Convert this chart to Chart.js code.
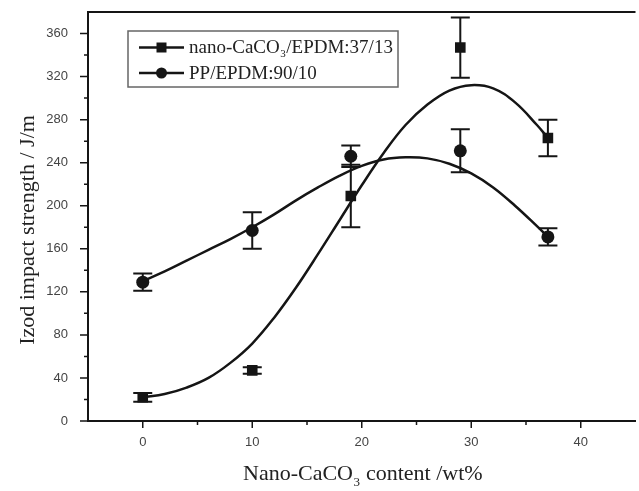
<!DOCTYPE html>
<html>
<head>
<meta charset="utf-8">
<script src="https://cdn.jsdelivr.net/npm/chart.js@4"></script>
<style>
  html, body { margin: 0; padding: 0; background: #fff; overflow: hidden; }
  #wrap { width: 639px; height: 491px; overflow: hidden; }
</style>
</head>
<body>
<div id="wrap"><canvas id="impactChart" width="643" height="491"></canvas></div>
<script>
// measured points (wt% CaCO3 -> Izod impact strength J/m)
const contentWt = [0, 10, 19, 29, 37];
const caco3Impact = [22, 47, 209, 347, 263];
const caco3Err = [4, 3, 29, 28, 17];
const ppImpact = [129, 177, 246, 251, 171];
const ppErr = [8, 17, 10, 20, 8];

// fitted curves
const fitX = [0, 2, 4, 6, 8, 10, 12, 14, 16, 18, 20, 22, 24, 26, 28, 30, 32, 34, 36, 37];
const caco3Fit = [22, 25, 31, 40, 54, 72, 96, 124, 155, 187, 219, 249, 275, 294, 307, 312, 309, 296, 275, 263];
const ppFit = [130, 139, 149, 159, 169, 180, 192, 205, 217, 228, 237, 243, 245, 244, 239, 230, 217, 200, 181, 171];

const xTicks = [0, 10, 20, 30, 40];
const xMinorTicks = [5, 15, 25, 35];
const yTicks = [0, 40, 80, 120, 160, 200, 240, 280, 320, 360];
const yMinorTicks = [20, 60, 100, 140, 180, 220, 260, 300, 340];

const seriesNames = ['nano-CaCO₃/EPDM:37/13', 'PP/EPDM:90/10'];
const xTitle = 'Nano-CaCO₃ content /wt%';
const yTitle = 'Izod impact strength / J/m';

const INK = '#151515';
const serif = '"Liberation Serif", "Times New Roman", serif';

const toXY = (xs, ys) => xs.map((x, i) => ({ x: x, y: ys[i] }));

// draw text where '₃' becomes a small lowered 3
function drawSubText(ctx, text, x, y, size) {
    const parts = text.split('₃');
    let cx = x;
    parts.forEach((p, i) => {
        ctx.font = size + 'px ' + serif;
        ctx.fillText(p, cx, y);
        cx += ctx.measureText(p).width;
        if (i < parts.length - 1) {
            ctx.font = Math.round(size * 0.6) + 'px ' + serif;
            ctx.fillText('3', cx + 0.5, y + size * 0.28);
            cx += ctx.measureText('3').width + 1;
        }
    });
}

const errorBars = {
    id: 'errorBars',
    beforeDatasetsDraw(chart) {
        const ctx = chart.ctx;
        const xs = chart.scales.x, ys = chart.scales.y;
        ctx.save();
        ctx.strokeStyle = INK;
        ctx.lineWidth = 2;
        [[caco3Impact, caco3Err], [ppImpact, ppErr]].forEach(([vals, errs]) => {
            vals.forEach((v, i) => {
                const px = xs.getPixelForValue(contentWt[i]);
                const top = ys.getPixelForValue(v + errs[i]);
                const bot = ys.getPixelForValue(v - errs[i]);
                ctx.beginPath();
                ctx.moveTo(px, top); ctx.lineTo(px, bot);
                ctx.moveTo(px - 9.5, top); ctx.lineTo(px + 9.5, top);
                ctx.moveTo(px - 9.5, bot); ctx.lineTo(px + 9.5, bot);
                ctx.stroke();
            });
        });
        ctx.restore();
    }
};

const frameAndLegend = {
    id: 'frameAndLegend',
    afterDraw(chart) {
        const ctx = chart.ctx;
        const area = chart.chartArea;
        const xs = chart.scales.x, ys = chart.scales.y;
        ctx.save();
        ctx.strokeStyle = INK;
        ctx.lineWidth = 2;
        // top frame line
        ctx.beginPath();
        ctx.moveTo(area.left, area.top);
        ctx.lineTo(area.right, area.top);
        ctx.stroke();

        // tick marks
        ctx.lineWidth = 1.5;
        ctx.beginPath();
        yTicks.forEach(v => { const py = ys.getPixelForValue(v); ctx.moveTo(area.left - 8, py); ctx.lineTo(area.left, py); });
        yMinorTicks.forEach(v => { const py = ys.getPixelForValue(v); ctx.moveTo(area.left - 4, py); ctx.lineTo(area.left, py); });
        xTicks.forEach(v => { const px = xs.getPixelForValue(v); ctx.moveTo(px, area.bottom); ctx.lineTo(px, area.bottom + 7); });
        xMinorTicks.forEach(v => { const px = xs.getPixelForValue(v); ctx.moveTo(px, area.bottom); ctx.lineTo(px, area.bottom + 4); });
        ctx.stroke();

        // legend box
        ctx.strokeStyle = '#666';
        ctx.lineWidth = 1.5;
        ctx.strokeRect(128, 31, 270, 56);
        const rows = [47.5, 73];
        rows.forEach((ry, i) => {
            ctx.strokeStyle = INK;
            ctx.fillStyle = INK;
            ctx.lineWidth = 2.5;
            ctx.beginPath();
            ctx.moveTo(139, ry); ctx.lineTo(184, ry);
            ctx.stroke();
            ctx.beginPath();
            if (i === 0) {
                ctx.rect(161.5 - 5, ry - 5, 10, 10);
            } else {
                ctx.arc(161.5, ry, 5.5, 0, Math.PI * 2);
            }
            ctx.fill();
            ctx.fillStyle = '#222';
            ctx.textBaseline = 'middle';
            ctx.textAlign = 'left';
            drawSubText(ctx, seriesNames[i], 189, ry + 1, 19);
        });

        // axis titles
        ctx.fillStyle = '#222';
        ctx.textBaseline = 'alphabetic';
        ctx.textAlign = 'left';
        drawSubText(ctx, xTitle, 243, 480, 22);

        ctx.save();
        ctx.translate(34, 230);
        ctx.rotate(-Math.PI / 2);
        ctx.textAlign = 'center';
        ctx.font = '22px ' + serif;
        ctx.fillText(yTitle, 0, 0);
        ctx.restore();

        ctx.restore();
    }
};

const ctx = document.getElementById('impactChart').getContext('2d');
const impactChart = new Chart(ctx, {
    type: 'scatter',
    data: {
        datasets: [{
            label: seriesNames[0] + ' fit',
            data: toXY(fitX, caco3Fit),
            showLine: true,
            pointRadius: 0,
            borderColor: INK,
            borderWidth: 2.5,
            tension: 0.4
        }, {
            label: seriesNames[1] + ' fit',
            data: toXY(fitX, ppFit),
            showLine: true,
            pointRadius: 0,
            borderColor: INK,
            borderWidth: 2.5,
            tension: 0.4
        }, {
            label: seriesNames[0],
            data: toXY(contentWt, caco3Impact),
            pointStyle: 'rect',
            pointRadius: 7.5,
            backgroundColor: INK,
            borderColor: INK,
            borderWidth: 0
        }, {
            label: seriesNames[1],
            data: toXY(contentWt, ppImpact),
            pointStyle: 'circle',
            pointRadius: 6.5,
            backgroundColor: INK,
            borderColor: INK,
            borderWidth: 0
        }]
    },
    options: {
        responsive: false,
        animation: false,
        layout: { padding: { top: 12, right: 1, left: 0, bottom: 0 } },
        plugins: {
            legend: { display: false },
            tooltip: { enabled: false }
        },
        scales: {
            x: {
                type: 'linear',
                min: -5,
                max: 45,
                grid: { display: false },
                border: { display: true, color: INK, width: 2 },
                afterBuildTicks: s => { s.ticks = xTicks.map(v => ({ value: v })); },
                afterFit: s => { s.height = 70; s.paddingLeft = 0; s.paddingRight = 0; },
                ticks: {
                    padding: 6,
                    color: '#444',
                    font: { family: '"Liberation Sans", Arial, sans-serif', size: 13 },
                    maxRotation: 0
                }
            },
            y: {
                type: 'linear',
                min: 0,
                max: 380,
                grid: { display: false },
                border: { display: true, color: INK, width: 2 },
                afterBuildTicks: s => { s.ticks = yTicks.map(v => ({ value: v })); },
                afterFit: s => { s.width = 88; s.paddingTop = 0; s.paddingBottom = 0; },
                ticks: {
                    padding: 12,
                    color: '#444',
                    font: { family: '"Liberation Sans", Arial, sans-serif', size: 13 }
                }
            }
        }
    },
    plugins: [errorBars, frameAndLegend]
});
</script>
</body>
</html>
